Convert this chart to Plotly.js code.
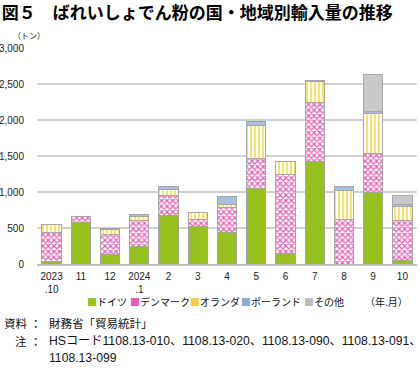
<!DOCTYPE html>
<html><head><meta charset="utf-8">
<script src="https://cdn.plot.ly/plotly-3.0.1.min.js"></script>
<style>html,body{margin:0;padding:0;background:#fff}#c{width:420px;height:368px}</style>
</head><body><div id="c"></div>
<script>
const categories = ["2023<br>.10","11","12","2024<br>.1","2","3","4","5","6","7","8","9","10"];
const germany     = [40, 570, 130, 240, 680, 520, 440, 1050, 150, 1430, 0, 1000, 55];
const denmark     = [400, 95, 280, 360, 270, 105, 340, 420, 1100, 820, 625, 535, 545];
const netherlands = [105, 0, 70, 55, 85, 95, 40, 460, 175, 280, 395, 560, 205];
const poland      = [5, 0, 20, 30, 35, 0, 120, 45, 0, 25, 60, 25, 25];
const others      = [0, 0, 0, 0, 0, 0, 0, 0, 0, 0, 0, 510, 125];
const seriesNames = ["ドイツ","デンマーク","オランダ","ポーランド","その他"];
const yTicks = [0,500,1000,1500,2000,2500,3000];

const JP = "Noto Sans CJK JP, sans-serif";
const AR = "Liberation Sans, Arial, sans-serif";
const MIX = "Liberation Sans, Noto Sans CJK JP, sans-serif";
const line = {color:"#A6A6A6", width:1};
const x = categories.map((c,i)=>i);

const traces = [
  {name:seriesNames[0], y:germany, marker:{color:"#96C11F", line:line}},
  {name:seriesNames[1], y:denmark, marker:{color:"#ffffff", line:line, pattern:{shape:"x", fgcolor:"#E35AAE", bgcolor:"#ffffff", size:4, solidity:0.5}}},
  {name:seriesNames[2], y:netherlands, marker:{color:"#ffffff", line:line, pattern:{shape:"|", fgcolor:"#F7DF5C", bgcolor:"#ffffff", size:4, solidity:0.45}}},
  {name:seriesNames[3], y:poland, marker:{color:"#A8BFE0", line:line}},
  {name:seriesNames[4], y:others, marker:{color:"#C9C9C9", line:line}}
].map(t=>Object.assign({type:"bar", x:x, hoverinfo:"skip"}, t));

function px2x(p){return (p-37)/380;}
function px2y(p){return (264-p)/216;}
function note(px, py, text, size, family, anchor){
  return {xref:"paper", yref:"paper", x:px2x(px), y:px2y(py), xanchor:anchor||"left", yanchor:"middle", showarrow:false, text:text, font:{family:family, size:size, color:"#111"}};
}
const legendColors = ["#96C11F","#E35AAE","#F0D040","#8FAAD6","#BDBDBD"];
const legendX = [85,128,188,239,302];
const annotations = [];
seriesNames.forEach((n,i)=>{
  annotations.push(note(legendX[i], 301, "<span style='color:"+legendColors[i]+"'>■</span>"+n, 10, JP));
});
annotations.push(note(410, 301, "（年.月）", 10, JP, "right"));
annotations.push(note(11, 35, "（トン）", 8, JP));
annotations.push(note(2, 323, "資料", 11.5, JP));
annotations.push(note(36, 323, "：", 11.5, JP, "center"));
annotations.push(note(47, 323, "財務省「貿易統計」", 11.5, JP));
annotations.push(note(13, 341, "注", 11.5, JP));
annotations.push(note(36, 341, "：", 11.5, JP, "center"));
annotations.push(note(47, 341, "HSコード1108.13-010、1108.13-020、1108.13-090、1108.13-091、", 12.2, MIX));
annotations.push(note(47, 358, "1108.13-099", 12.2, MIX));

const layout = {
  width:420, height:368,
  margin:{l:37, r:3, t:48, b:104},
  paper_bgcolor:"#fff", plot_bgcolor:"#fff",
  barmode:"stack", bargap:0.34, showlegend:false,
  title:{text:"<b>図５　ばれいしょでん粉の国・地域別輸入量の推移</b>", font:{family:JP, size:17, color:"#000"}, x:0.004, xanchor:"left", xref:"container", y:1-13/368, yanchor:"middle", yref:"container"},
  xaxis:{tickmode:"array", tickvals:x, ticktext:categories, range:[-0.5,12.5], showline:true, linecolor:"#BFBFBF", linewidth:1.5, showgrid:false, zeroline:false, ticks:"", ticklabelstandoff:2, tickfont:{family:AR, size:10, color:"#222"}, fixedrange:true},
  yaxis:{range:[0,3000], tickmode:"array", tickvals:yTicks, ticktext:yTicks.map(v=>v.toLocaleString("en-US")), gridcolor:"#D0D0D0", gridwidth:1.5, zeroline:false, showline:false, ticks:"", ticklabelstandoff:12, tickfont:{family:AR, size:10, color:"#222"}, fixedrange:true},
  annotations:annotations
};
Plotly.newPlot("c", traces, layout, {staticPlot:true, displayModeBar:false});
</script></body></html>
